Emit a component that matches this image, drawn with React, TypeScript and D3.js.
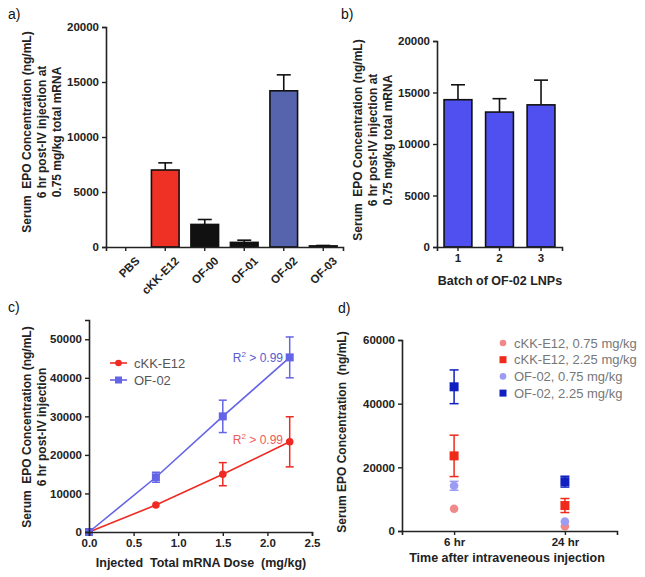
import { useEffect, useRef } from "react"
import * as d3 from "d3"

// panel a
const aCategories = ["PBS", "cKK-E12", "OF-00", "OF-01", "OF-02", "OF-03"]
const aValues = [0, 7000, 2050, 420, 14200, 100]
const aErrors = [0, 650, 450, 200, 1450, 40]
const aColors = ["#ffffff", "#ee3124", "#111111", "#111111", "#5564ac", "#111111"]
const aTicks = [0, 5000, 10000, 15000, 20000]

// panel b
const bBatches = ["1", "2", "3"]
const bValues = [14300, 13100, 13800]
const bErrors = [1450, 1300, 2400]
const bTicks = [0, 5000, 10000, 15000, 20000]

// panel c
const cDoses = [0, 0.75, 1.5, 2.25]
const cCkkValues = [0, 7000, 15000, 23400]
const cCkkErrors = [0, 250, 3000, 6500]
const cOfValues = [0, 14200, 30000, 45300]
const cOfErrors = [0, 1300, 4200, 5300]
const cXTicks = [0, 0.5, 1.0, 1.5, 2.0, 2.5]
const cYTicks = [0, 10000, 20000, 30000, 40000, 50000]

// panel d
const dTimes = ["6 hr", "24 hr"]
const dNames = ["cKK-E12, 0.75 mg/kg", "cKK-E12, 2.25 mg/kg", "OF-02, 0.75 mg/kg", "OF-02, 2.25 mg/kg"]
const dCkkLow = [7000, 1500]
const dCkkLowErr = [0, 0]
const dCkkHigh = [23600, 8000]
const dCkkHighErr = [6500, 2200]
const dOfLow = [14200, 3000]
const dOfLowErr = [1400, 0]
const dOfHigh = [45300, 15500]
const dOfHighErr = [5300, 1700]
const dYTicks = [0, 20000, 40000, 60000]

const FONT = "'Liberation Sans', Arial, sans-serif"
const AXIS = "#222"

export default function App() {
  const ref = useRef<SVGSVGElement>(null)

  useEffect(() => {
    const svg = d3.select(ref.current)
    svg.selectAll("*").remove()
    svg.style("font-family", FONT)

    const styleAxis = (g: any) => {
      g.selectAll(".domain").attr("stroke", AXIS).attr("stroke-width", 1.6)
      g.selectAll(".tick line").attr("stroke", AXIS).attr("stroke-width", 1.4)
      g.selectAll(".tick text")
        .attr("fill", "#222")
        .style("font-size", "11.5px")
        .style("font-weight", "bold")
        .style("font-family", FONT)
    }

    const yLabel = (x: number, y: number, lines: string[], gap: number) => {
      const t = svg.append("text")
        .attr("transform", `translate(${x},${y}) rotate(-90)`)
        .attr("text-anchor", "middle")
        .style("font-size", "12px")
        .style("font-weight", "bold")
        .style("white-space", "pre")
        .attr("fill", "#222")
      lines.forEach((l, i) => {
        t.append("tspan").attr("x", 0).attr("y", i * gap).text(l)
      })
    }

    const panelTag = (x: number, y: number, s: string) => {
      svg.append("text").attr("x", x).attr("y", y)
        .style("font-size", "14px").attr("fill", "#111").text(s)
    }

    // ---------- a) ----------
    const ax = d3.scaleBand().domain(aCategories).range([106, 343]).paddingInner(0.3).paddingOuter(0.15)
    const ay = d3.scaleLinear().domain([0, 20000]).range([247, 27])
    const ga = svg.append("g")

    ga.selectAll("line.err").data(aCategories).enter().append("line")
      .attr("x1", (d) => ax(d)! + ax.bandwidth() / 2)
      .attr("x2", (d) => ax(d)! + ax.bandwidth() / 2)
      .attr("y1", (_, i) => ay(aValues[i]))
      .attr("y2", (_, i) => ay(aValues[i] + aErrors[i]))
      .attr("stroke", "#111").attr("stroke-width", 1.6)
    ga.selectAll("line.cap").data(aCategories).enter().append("line")
      .attr("x1", (d) => ax(d)! + ax.bandwidth() / 2 - 7)
      .attr("x2", (d) => ax(d)! + ax.bandwidth() / 2 + 7)
      .attr("y1", (_, i) => ay(aValues[i] + aErrors[i]))
      .attr("y2", (_, i) => ay(aValues[i] + aErrors[i]))
      .attr("stroke", (_, i) => (aValues[i] > 0 ? "#111" : "none")).attr("stroke-width", 1.6)
    ga.selectAll("rect").data(aCategories).enter().append("rect")
      .attr("x", (d) => ax(d)!)
      .attr("width", ax.bandwidth())
      .attr("y", (_, i) => ay(aValues[i]))
      .attr("height", (_, i) => ay(0) - ay(aValues[i]))
      .attr("fill", (_, i) => aColors[i])
      .attr("stroke", (_, i) => (aValues[i] > 0 ? "#111" : "none"))
      .attr("stroke-width", 1.6)

    const aYAxis = svg.append("g").attr("transform", "translate(106,0)")
      .call(d3.axisLeft(ay).tickValues(aTicks).tickSize(4).tickFormat(d3.format("d")))
    styleAxis(aYAxis)
    const aXAxis = svg.append("g").attr("transform", "translate(0,247)")
      .call(d3.axisBottom(ax).tickSize(4))
    styleAxis(aXAxis)
    aXAxis.selectAll(".tick text")
      .attr("text-anchor", "end")
      .attr("transform", "translate(4,4) rotate(-45)")
      .attr("dy", "0.7em")
    yLabel(31, 132, ["Serum  EPO Concentration (ng/mL)", "6 hr post-IV injection at", "0.75 mg/kg total mRNA"], 15)
    panelTag(8, 19, "a)")

    // ---------- b) ----------
    const bx = d3.scaleBand().domain(bBatches).range([437, 562]).paddingInner(0.33).paddingOuter(0.17)
    const by = d3.scaleLinear().domain([0, 20000]).range([247, 41])
    const gb = svg.append("g")
    gb.selectAll("line.err").data(bBatches).enter().append("line")
      .attr("x1", (d) => bx(d)! + bx.bandwidth() / 2)
      .attr("x2", (d) => bx(d)! + bx.bandwidth() / 2)
      .attr("y1", (_, i) => by(bValues[i]))
      .attr("y2", (_, i) => by(bValues[i] + bErrors[i]))
      .attr("stroke", "#111").attr("stroke-width", 1.6)
    gb.selectAll("line.cap").data(bBatches).enter().append("line")
      .attr("x1", (d) => bx(d)! + bx.bandwidth() / 2 - 7)
      .attr("x2", (d) => bx(d)! + bx.bandwidth() / 2 + 7)
      .attr("y1", (_, i) => by(bValues[i] + bErrors[i]))
      .attr("y2", (_, i) => by(bValues[i] + bErrors[i]))
      .attr("stroke", "#111").attr("stroke-width", 1.6)
    gb.selectAll("rect").data(bBatches).enter().append("rect")
      .attr("x", (d) => bx(d)!)
      .attr("width", bx.bandwidth())
      .attr("y", (_, i) => by(bValues[i]))
      .attr("height", (_, i) => by(0) - by(bValues[i]))
      .attr("fill", "#5050f0")
      .attr("stroke", "#111").attr("stroke-width", 1.6)
    const bYAxis = svg.append("g").attr("transform", "translate(437,0)")
      .call(d3.axisLeft(by).tickValues(bTicks).tickSize(4).tickFormat(d3.format("d")))
    styleAxis(bYAxis)
    const bXAxis = svg.append("g").attr("transform", "translate(0,247)")
      .call(d3.axisBottom(bx).tickSize(4))
    styleAxis(bXAxis)
    svg.append("text").attr("x", 500).attr("y", 285).attr("text-anchor", "middle")
      .style("font-size", "12.5px").style("font-weight", "bold").attr("fill", "#222")
      .text("Batch of OF-02 LNPs")
    yLabel(362, 140, ["Serum  EPO Concentration (ng/mL)", "6 hr post-IV injection at", "0.75 mg/kg total mRNA"], 15)
    panelTag(341, 19, "b)")

    // ---------- c) ----------
    const cx = d3.scaleLinear().domain([0, 2.5]).range([89, 312])
    const cy = d3.scaleLinear().domain([0, 55000]).range([532, 320])
    const cSeries = [
      { name: "cKK-E12", values: cCkkValues, errors: cCkkErrors, color: "#ee2a22", shape: "circle" },
      { name: "OF-02", values: cOfValues, errors: cOfErrors, color: "#6464e6", shape: "square" },
    ]
    const line = d3.line<number>().x((_, i) => cx(cDoses[i])).y((d) => cy(d))
    cSeries.forEach((s) => {
      const g = svg.append("g")
      g.append("path").attr("d", line(s.values)).attr("fill", "none")
        .attr("stroke", s.color).attr("stroke-width", 1.6)
      s.values.forEach((v, i) => {
        const e = s.errors[i]
        if (e > 400) {
          const px = cx(cDoses[i])
          g.append("line").attr("x1", px).attr("x2", px).attr("y1", cy(v - e)).attr("y2", cy(v + e))
            .attr("stroke", s.color).attr("stroke-width", 1.5)
          ;[v - e, v + e].forEach((w) => {
            g.append("line").attr("x1", px - 4).attr("x2", px + 4).attr("y1", cy(w)).attr("y2", cy(w))
              .attr("stroke", s.color).attr("stroke-width", 1.5)
          })
        }
      })
      if (s.shape === "circle") {
        g.selectAll("circle").data(s.values).enter().append("circle")
          .attr("cx", (_, i) => cx(cDoses[i])).attr("cy", (d) => cy(d)).attr("r", 3.8)
          .attr("fill", s.color)
      } else {
        g.selectAll("rect").data(s.values).enter().append("rect")
          .attr("x", (_, i) => cx(cDoses[i]) - 4).attr("y", (d) => cy(d) - 4)
          .attr("width", 8).attr("height", 8).attr("fill", s.color)
      }
    })
    const cYAxis = svg.append("g").attr("transform", "translate(89,0)")
      .call(d3.axisLeft(cy).tickValues(cYTicks).tickSize(4).tickFormat(d3.format("d")))
    styleAxis(cYAxis)
    const cXAxis = svg.append("g").attr("transform", "translate(0,532)")
      .call(d3.axisBottom(cx).tickValues(cXTicks).tickSize(4).tickFormat(d3.format(".1f")))
    styleAxis(cXAxis)
    svg.append("text").attr("x", 201).attr("y", 567).attr("text-anchor", "middle")
      .style("font-size", "12.5px").style("font-weight", "bold").attr("fill", "#222")
      .style("white-space", "pre")
      .text("Injected  Total mRNA Dose  (mg/kg)")
    yLabel(31, 427, ["Serum  EPO Concentration (ng/mL)", "6 hr post-IV injection"], 15)

    // legend c
    cSeries.forEach((s, i) => {
      const ly = 363 + i * 17
      svg.append("line").attr("x1", 110).attr("x2", 127).attr("y1", ly).attr("y2", ly)
        .attr("stroke", s.color).attr("stroke-width", 1.6)
      if (s.shape === "circle") {
        svg.append("circle").attr("cx", 118.5).attr("cy", ly).attr("r", 3.3).attr("fill", s.color)
      } else {
        svg.append("rect").attr("x", 115).attr("y", ly - 3.5).attr("width", 7).attr("height", 7).attr("fill", s.color)
      }
      svg.append("text").attr("x", 134).attr("y", ly + 4.5)
        .style("font-size", "13px").attr("fill", "#555").text(s.name)
    })
    const r2 = (x: number, y: number, color: string) => {
      const t = svg.append("text").attr("x", x).attr("y", y).attr("text-anchor", "end")
        .style("font-size", "12px").attr("fill", color)
      t.append("tspan").text("R")
      t.append("tspan").attr("dy", -5).style("font-size", "8px").text("2")
      t.append("tspan").attr("dy", 5).text(" > 0.99")
    }
    r2(283, 362, "#5a5ad0")
    r2(283, 444, "#ee5a5a")
    panelTag(8, 312, "c)")

    // ---------- d) ----------
    const dx = d3.scalePoint().domain(dTimes).range([402, 617]).padding(0.47)
    const dy = d3.scaleLinear().domain([0, 60000]).range([531, 340])
    const dSeries = [
      { name: dNames[0], values: dCkkLow, errors: dCkkLowErr, color: "#f08a8a", shape: "circle" },
      { name: dNames[1], values: dCkkHigh, errors: dCkkHighErr, color: "#f02a1a", shape: "square" },
      { name: dNames[2], values: dOfLow, errors: dOfLowErr, color: "#9c9cf4", shape: "circle" },
      { name: dNames[3], values: dOfHigh, errors: dOfHighErr, color: "#1020c0", shape: "square" },
    ]
    dSeries.forEach((s) => {
      const g = svg.append("g")
      s.values.forEach((v, i) => {
        const e = s.errors[i]
        const px = dx(dTimes[i])!
        if (e > 0) {
          g.append("line").attr("x1", px).attr("x2", px).attr("y1", dy(v - e)).attr("y2", dy(v + e))
            .attr("stroke", s.color).attr("stroke-width", 1.5)
          ;[v - e, v + e].forEach((w) => {
            g.append("line").attr("x1", px - 4.5).attr("x2", px + 4.5).attr("y1", dy(w)).attr("y2", dy(w))
              .attr("stroke", s.color).attr("stroke-width", 1.5)
          })
        }
        if (s.shape === "circle") {
          g.append("circle").attr("cx", px).attr("cy", dy(v)).attr("r", 4.3).attr("fill", s.color)
        } else {
          g.append("rect").attr("x", px - 4.5).attr("y", dy(v) - 4.5).attr("width", 9).attr("height", 9)
            .attr("fill", s.color)
        }
      })
    })
    const dYAxis = svg.append("g").attr("transform", "translate(402,0)")
      .call(d3.axisLeft(dy).tickValues(dYTicks).tickSize(4).tickFormat(d3.format("d")))
    styleAxis(dYAxis)
    const dXAxis = svg.append("g").attr("transform", "translate(0,531)")
      .call(d3.axisBottom(dx).tickSize(4))
    styleAxis(dXAxis)
    svg.append("text").attr("x", 507).attr("y", 562).attr("text-anchor", "middle")
      .style("font-size", "12.5px").style("font-weight", "bold").attr("fill", "#222")
      .text("Time after intraveneous injection")
    yLabel(346, 432, ["Serum EPO Concentration  (ng/mL)"], 15)
    dSeries.forEach((s, i) => {
      const ly = 343 + i * 16.7
      if (s.shape === "circle") {
        svg.append("circle").attr("cx", 503).attr("cy", ly).attr("r", 3.3).attr("fill", s.color)
      } else {
        svg.append("rect").attr("x", 499.5).attr("y", ly - 3.5).attr("width", 7).attr("height", 7).attr("fill", s.color)
      }
      svg.append("text").attr("x", 514).attr("y", ly + 4.5)
        .style("font-size", "13px").attr("fill", "#777").text(s.name)
    })
    panelTag(338, 313, "d)")
  }, [])

  return (
    <svg ref={ref} width={645} height={577}
      style={{ position: "absolute", left: 0, top: 0, background: "#fff" }} />
  )
}
